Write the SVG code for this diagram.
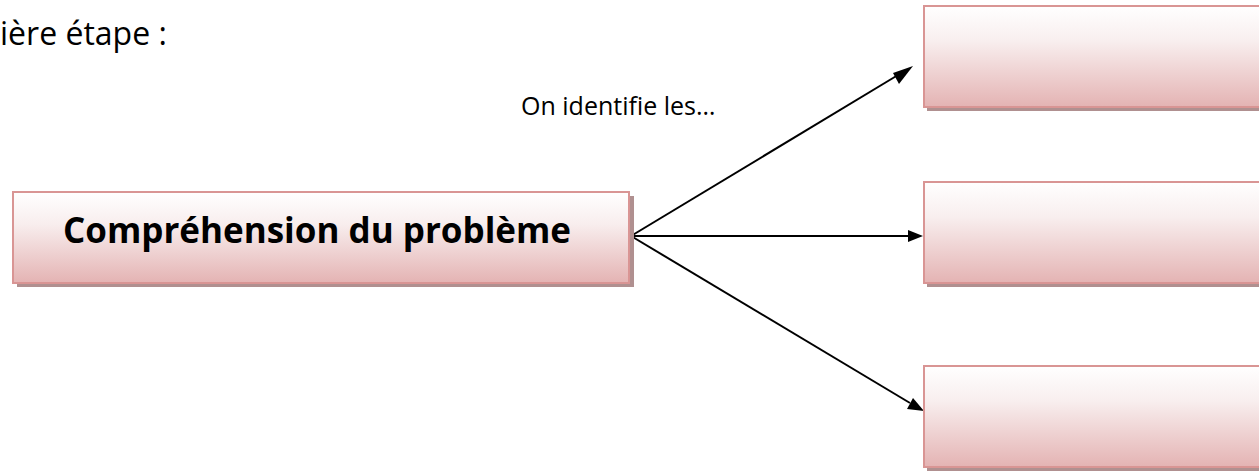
<svg xmlns="http://www.w3.org/2000/svg" width="1259" height="472" viewBox="0 0 1259 472">
<style>
.box{fill:url(#g);stroke:#d99594;stroke-width:2}
.shadow{fill:#b09090}
.conn{stroke:#000;stroke-width:2;fill:none}
.head{fill:#000}
text{font-family:"Open Sans","Liberation Sans",sans-serif;fill:#000}
</style>
<defs>
<linearGradient id="g" x1="0" y1="0" x2="0" y2="1">
<stop offset="0" stop-color="#ffffff"/>
<stop offset="0.35" stop-color="#f8eeee"/>
<stop offset="1" stop-color="#e4b3b3"/>
</linearGradient>
</defs>
<rect width="1259" height="472" fill="#fff"/>
<text x="0" y="45" font-size="32">ière étape :</text>
<text x="521" y="115" font-size="25">On identifie les…</text>
<g id="connectors">
<path class="conn" d="M631,236 L898,75"/>
<path class="head" d="M913,66 L899,84 L893,73 z"/>
<path class="conn" d="M631,236 L908,236"/>
<path class="head" d="M923,236 L908,230 L908,242 z"/>
<path class="conn" d="M631,236 L910,403"/>
<path class="head" d="M924,411 L907,409 L913,398 z"/>
</g>
<g id="node-main">
<rect class="shadow" x="17" y="196" width="617" height="91"/>
<rect class="box" x="13" y="192" width="616" height="91"/>
<text x="317" y="243" font-size="35" font-weight="bold" text-anchor="middle">Compréhension du problème</text>
</g>
<g id="node-top">
<rect class="shadow" x="927" y="10" width="340" height="101"/>
<rect class="box" x="924" y="6" width="340" height="101"/>
</g>
<g id="node-middle">
<rect class="shadow" x="927" y="186" width="340" height="101"/>
<rect class="box" x="924" y="182" width="340" height="101"/>
</g>
<g id="node-bottom">
<rect class="shadow" x="927" y="370" width="340" height="101"/>
<rect class="box" x="924" y="366" width="340" height="101"/>
</g>
</svg>
